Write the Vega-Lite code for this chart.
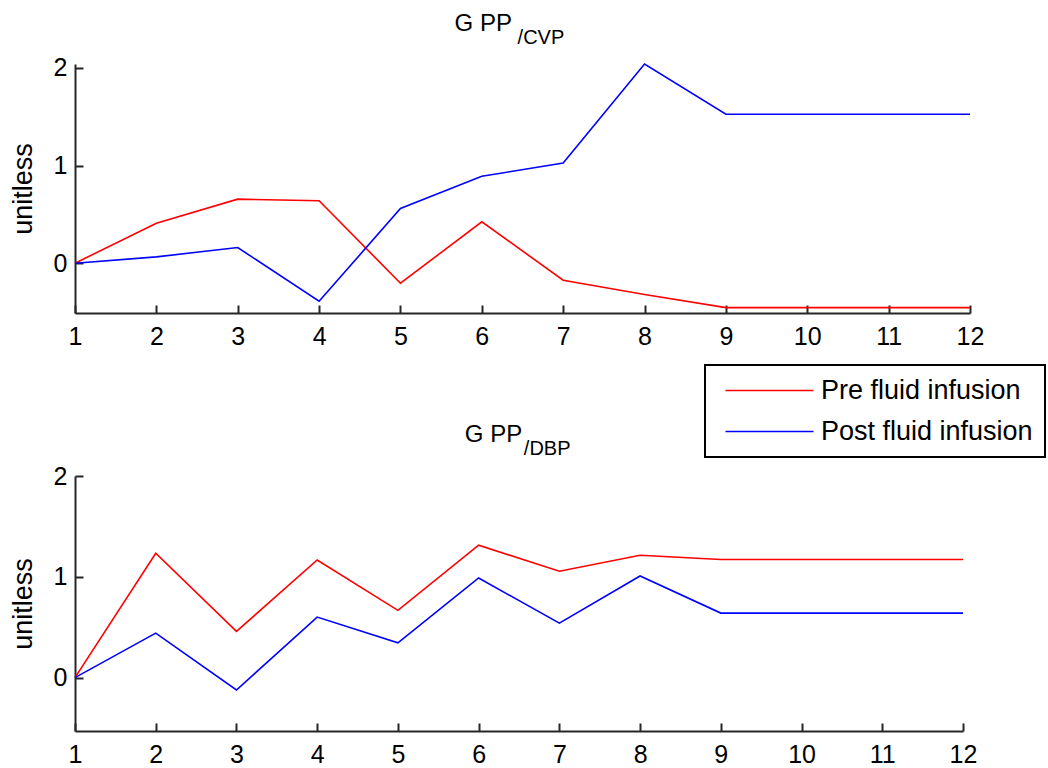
{
  "$schema": "https://vega.github.io/schema/vega-lite/v6.json",
  "background": "white",
  "padding": {"left": 9, "top": 11, "right": 3, "bottom": 5},
  "spacing": 74,
  "config": {
    "view": {"stroke": null},
    "font": "Liberation Sans",
    "axis": {
      "domainColor": "#262626", "domainWidth": 2,
      "tickColor": "#262626", "tickWidth": 2, "tickSize": -8,
      "labelFontSize": 25, "labelColor": "#000000", "labelFont": "Liberation Sans",
      "grid": false, "titleFontSize": 27, "titleFontWeight": "normal", "titleColor": "#000000", "titleFont": "Liberation Sans",
      "format": "d"
    },
    "legend": {
      "orient": "none", "legendX": 630, "legendY": 301,
      "strokeColor": "#000000", "strokeWidth": 2, "fillColor": "#ffffff",
      "padding": 12, "rowPadding": 13, "labelFontSize": 27, "labelColor": "#000000", "labelFont": "Liberation Sans",
      "symbolType": "M-0.5,0H8.3", "symbolSize": 400, "symbolStrokeWidth": 1.6, "labelOffset": 77, "labelLimit": 0
    }
  },
  "datasets": {
    "cvp": [
      {"sample": 1, "series": "Pre fluid infusion", "value": 0},
      {"sample": 2, "series": "Pre fluid infusion", "value": 0.41},
      {"sample": 3, "series": "Pre fluid infusion", "value": 0.656},
      {"sample": 4, "series": "Pre fluid infusion", "value": 0.64},
      {"sample": 5, "series": "Pre fluid infusion", "value": -0.205},
      {"sample": 6, "series": "Pre fluid infusion", "value": 0.424},
      {"sample": 7, "series": "Pre fluid infusion", "value": -0.174},
      {"sample": 8, "series": "Pre fluid infusion", "value": -0.32},
      {"sample": 9, "series": "Pre fluid infusion", "value": -0.455},
      {"sample": 10, "series": "Pre fluid infusion", "value": -0.455},
      {"sample": 11, "series": "Pre fluid infusion", "value": -0.455},
      {"sample": 12, "series": "Pre fluid infusion", "value": -0.455},
      {"sample": 1, "series": "Post fluid infusion", "value": 0},
      {"sample": 2, "series": "Post fluid infusion", "value": 0.065},
      {"sample": 3, "series": "Post fluid infusion", "value": 0.16},
      {"sample": 4, "series": "Post fluid infusion", "value": -0.39},
      {"sample": 5, "series": "Post fluid infusion", "value": 0.56},
      {"sample": 6, "series": "Post fluid infusion", "value": 0.89},
      {"sample": 7, "series": "Post fluid infusion", "value": 1.026},
      {"sample": 8, "series": "Post fluid infusion", "value": 2.04},
      {"sample": 9, "series": "Post fluid infusion", "value": 1.525},
      {"sample": 10, "series": "Post fluid infusion", "value": 1.525},
      {"sample": 11, "series": "Post fluid infusion", "value": 1.525},
      {"sample": 12, "series": "Post fluid infusion", "value": 1.525}
    ],
    "dbp": [
      {"sample": 1, "series": "Pre fluid infusion", "value": 0},
      {"sample": 2, "series": "Pre fluid infusion", "value": 1.234},
      {"sample": 3, "series": "Pre fluid infusion", "value": 0.458},
      {"sample": 4, "series": "Pre fluid infusion", "value": 1.167},
      {"sample": 5, "series": "Pre fluid infusion", "value": 0.667},
      {"sample": 6, "series": "Pre fluid infusion", "value": 1.313},
      {"sample": 7, "series": "Pre fluid infusion", "value": 1.055},
      {"sample": 8, "series": "Pre fluid infusion", "value": 1.214},
      {"sample": 9, "series": "Pre fluid infusion", "value": 1.171},
      {"sample": 10, "series": "Pre fluid infusion", "value": 1.171},
      {"sample": 11, "series": "Pre fluid infusion", "value": 1.171},
      {"sample": 12, "series": "Pre fluid infusion", "value": 1.171},
      {"sample": 1, "series": "Post fluid infusion", "value": 0},
      {"sample": 2, "series": "Post fluid infusion", "value": 0.441},
      {"sample": 3, "series": "Post fluid infusion", "value": -0.123},
      {"sample": 4, "series": "Post fluid infusion", "value": 0.6},
      {"sample": 5, "series": "Post fluid infusion", "value": 0.345},
      {"sample": 6, "series": "Post fluid infusion", "value": 0.988},
      {"sample": 7, "series": "Post fluid infusion", "value": 0.54},
      {"sample": 8, "series": "Post fluid infusion", "value": 1.008},
      {"sample": 9, "series": "Post fluid infusion", "value": 0.64},
      {"sample": 10, "series": "Post fluid infusion", "value": 0.64},
      {"sample": 11, "series": "Post fluid infusion", "value": 0.64},
      {"sample": 12, "series": "Post fluid infusion", "value": 0.64}
    ]
  },
  "vconcat": [
    {
      "width": 895, "height": 249,
      "layer": [
        {
          "data": {"name": "cvp"},
          "mark": {"type": "line", "strokeWidth": 1.6},
          "encoding": {
            "x": {"field": "sample", "type": "quantitative", "scale": {"domain": [1, 12], "nice": false, "zero": false},
                  "axis": {"title": null, "values": [1,2,3,4,5,6,7,8,9,10,11,12], "labelPadding": 19, "labelFlush": false}},
            "y": {"field": "value", "type": "quantitative", "scale": {"domain": [-0.51, 2.04], "nice": false, "zero": false},
                  "axis": {"title": "unitless", "values": [0, 1, 2], "labelPadding": 16, "titlePadding": 16}},
            "color": {"field": "series", "type": "nominal", "sort": ["Pre fluid infusion", "Post fluid infusion"],
                      "scale": {"domain": ["Pre fluid infusion", "Post fluid infusion"], "range": ["#ff0000", "#0000ff"]},
                      "legend": {"title": null}}
          }
        },
        {
          "data": {"values": [{}]},
          "mark": {"type": "text", "text": "G PP", "align": "right", "baseline": "alphabetic", "fontSize": 24, "color": "#000000"},
          "encoding": {"x": {"datum": 6.37, "type": "quantitative"}, "y": {"datum": 2.38, "type": "quantitative"}}
        },
        {
          "data": {"values": [{}]},
          "mark": {"type": "text", "text": "/CVP", "align": "left", "baseline": "alphabetic", "fontSize": 20, "color": "#000000"},
          "encoding": {"x": {"datum": 6.44, "type": "quantitative"}, "y": {"datum": 2.246, "type": "quantitative"}}
        }
      ]
    },
    {
      "width": 888, "height": 255,
      "layer": [
        {
          "data": {"name": "dbp"},
          "mark": {"type": "line", "strokeWidth": 1.6},
          "encoding": {
            "x": {"field": "sample", "type": "quantitative", "scale": {"domain": [1, 12], "nice": false, "zero": false},
                  "axis": {"title": null, "values": [1,2,3,4,5,6,7,8,9,10,11,12], "labelPadding": 19, "labelFlush": false}},
            "y": {"field": "value", "type": "quantitative", "scale": {"domain": [-0.53, 2.0], "nice": false, "zero": false},
                  "axis": {"title": "unitless", "values": [0, 1, 2], "labelPadding": 16, "titlePadding": 16}},
            "color": {"field": "series", "type": "nominal", "sort": ["Pre fluid infusion", "Post fluid infusion"],
                      "scale": {"domain": ["Pre fluid infusion", "Post fluid infusion"], "range": ["#ff0000", "#0000ff"]},
                      "legend": {"title": null}}
          }
        },
        {
          "data": {"values": [{}]},
          "mark": {"type": "text", "text": "G PP", "align": "right", "baseline": "alphabetic", "fontSize": 24, "color": "#000000"},
          "encoding": {"x": {"datum": 6.54, "type": "quantitative"}, "y": {"datum": 2.334, "type": "quantitative"}}
        },
        {
          "data": {"values": [{}]},
          "mark": {"type": "text", "text": "/DBP", "align": "left", "baseline": "alphabetic", "fontSize": 20, "color": "#000000"},
          "encoding": {"x": {"datum": 6.56, "type": "quantitative"}, "y": {"datum": 2.21, "type": "quantitative"}}
        }
      ]
    }
  ]
}
